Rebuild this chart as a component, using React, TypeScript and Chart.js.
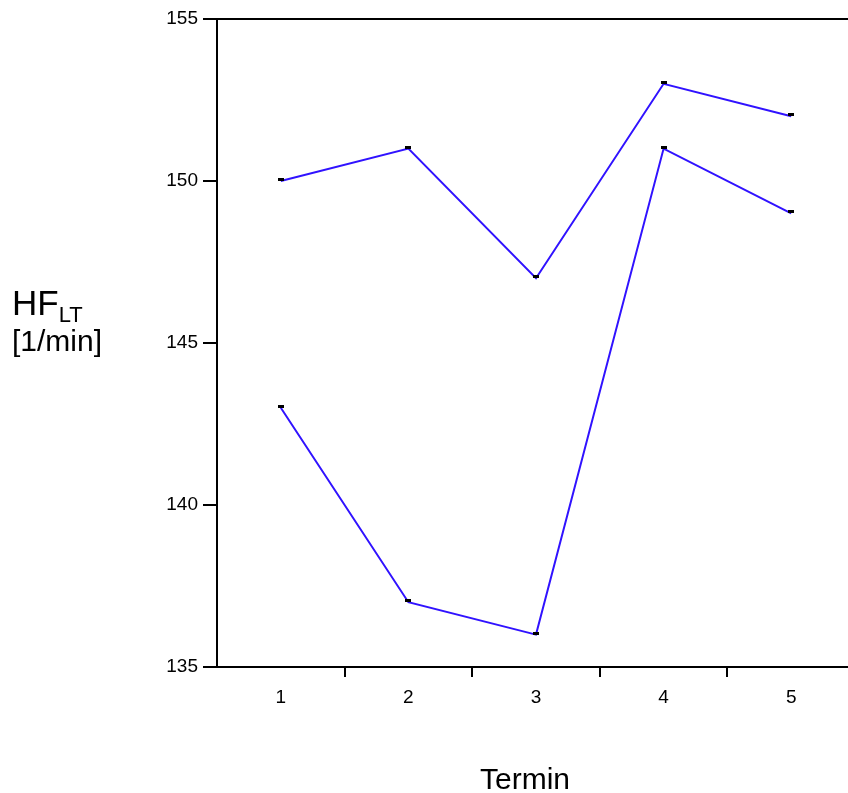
import React, { useEffect, useRef } from "react";
import { Chart, registerables } from "chart.js";

Chart.register(...registerables);

const categories = ["1", "2", "3", "4", "5"];
const seriesUpper = [150, 151, 147, 153, 152];
const seriesLower = [143, 137, 136, 151, 149];
const yTicks = [135, 140, 145, 150, 155];
const xTitle = "Termin";
const yTitleMain = "HF";
const yTitleSub = "LT";
const yTitleUnit = "[1/min]";

const FONT = "'Liberation Sans', Arial, Helvetica, sans-serif";
const BLUE = "#3012ff";

export default function App() {
  const ref = useRef<HTMLCanvasElement>(null);

  useEffect(() => {
    const canvas = ref.current!;

    const markers = {
      id: "markers",
      afterDatasetsDraw(chart: any) {
        const ctx = chart.ctx;
        ctx.save();
        ctx.fillStyle = "#000";
        chart.data.datasets.forEach((_: any, i: number) => {
          const meta = chart.getDatasetMeta(i);
          meta.data.forEach((p: any) => {
            ctx.fillRect(Math.round(p.x) - 3, Math.round(p.y) - 3, 6, 3);
          });
        });
        ctx.restore();
      },
    };

    const titles = {
      id: "titles",
      afterDraw(chart: any) {
        const ctx = chart.ctx;
        ctx.save();
        ctx.fillStyle = "#000";
        ctx.textBaseline = "alphabetic";
        ctx.textAlign = "left";
        ctx.font = `35px ${FONT}`;
        ctx.fillText(yTitleMain, 12, 315);
        const w = ctx.measureText(yTitleMain).width;
        ctx.font = `22px ${FONT}`;
        ctx.fillText(yTitleSub, 12 + w, 322);
        ctx.font = `30px ${FONT}`;
        ctx.fillText(yTitleUnit, 12, 351);
        ctx.textAlign = "center";
        ctx.font = `30px ${FONT}`;
        ctx.fillText(xTitle, 525, 789);
        ctx.restore();
      },
    };

    const chart = new Chart(canvas, {
      type: "line",
      data: {
        labels: categories,
        datasets: [
          {
            data: seriesUpper,
            borderColor: BLUE,
            borderWidth: 2,
            pointRadius: 0,
            tension: 0,
            fill: false,
          },
          {
            data: seriesLower,
            borderColor: BLUE,
            borderWidth: 2,
            pointRadius: 0,
            tension: 0,
            fill: false,
          },
        ],
      },
      options: {
        responsive: false,
        animation: false,
        devicePixelRatio: 1,
        layout: { padding: { left: 0, top: 19, right: 20, bottom: 0 } },
        plugins: {
          legend: { display: false },
          tooltip: { enabled: false },
        },
        scales: {
          x: {
            type: "category",
            position: "bottom",
            offset: true,
            grid: {
              offset: true,
              drawOnChartArea: false,
              drawTicks: true,
              tickLength: 10,
              lineWidth: 2,
              color: (c: any) => (c.index === 0 ? "rgba(0,0,0,0)" : "#000"),
            },
            border: { display: true, color: "#000", width: 2 },
            ticks: {
              color: "#000",
              font: { family: FONT, size: 19 },
              padding: 9,
              maxRotation: 0,
            },
            afterFit: (s: any) => {
              s.height = 126;
            },
          },
          xTop: {
            type: "linear",
            position: "top",
            display: true,
            grid: { display: false, drawTicks: false },
            ticks: { display: false },
            border: { display: true, color: "#000", width: 2 },
            afterFit: (s: any) => {
              s.height = 0;
            },
          },
          y: {
            type: "linear",
            min: 135,
            max: 155,
            afterBuildTicks: (s: any) => {
              s.ticks = yTicks.map((v) => ({ value: v }));
            },
            grid: {
              drawOnChartArea: false,
              drawTicks: true,
              tickLength: 14,
              lineWidth: 2,
              color: "#000",
            },
            border: { display: true, color: "#000", width: 2 },
            ticks: {
              color: "#000",
              font: { family: FONT, size: 19 },
              padding: 5,
            },
            afterFit: (s: any) => {
              s.width = 217;
            },
          },
        },
      },
      plugins: [markers, titles],
    });

    return () => chart.destroy();
  }, []);

  return (
    <div
      style={{
        position: "absolute",
        left: 0,
        top: 0,
        width: 848,
        height: 793,
        overflow: "hidden",
        background: "#fff",
      }}
    >
      <canvas ref={ref} width={875} height={793} style={{ display: "block" }} />
    </div>
  );
}
